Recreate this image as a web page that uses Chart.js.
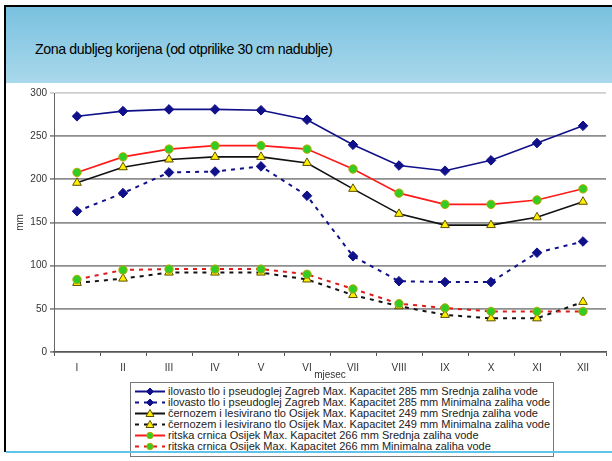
<!DOCTYPE html>
<html>
<head>
<meta charset="utf-8">
<script src="https://cdn.jsdelivr.net/npm/chart.js@4/dist/chart.umd.min.js"></script>
<style>
  html,body{margin:0;padding:0;background:#fff;}
  body{width:612px;height:461px;position:relative;overflow:hidden;font-family:"Liberation Sans",Arial,sans-serif;}
  #frameL{position:absolute;left:4px;top:5px;width:2px;height:447px;background:#000;}
  #frameT{position:absolute;left:4px;top:5px;width:608px;height:2px;background:#000;}
  #header{position:absolute;left:6px;top:7px;width:606px;height:76px;background:linear-gradient(#79c1df,#a9d8eb);}
  #title{position:absolute;left:29px;top:34px;font-size:14.2px;letter-spacing:-0.4px;color:#000;white-space:nowrap;}
  #wrap{position:absolute;left:0;top:84px;width:612px;height:300px;}
  #legend{position:absolute;left:130px;top:382px;width:424px;height:75px;border:1px solid #777;background:#fff;box-sizing:border-box;padding-top:3px;overflow:hidden;}
  .row{height:11px;line-height:11px;font-size:11px;color:#222;white-space:nowrap;display:flex;align-items:center;}
  .row svg{flex:none;margin-left:3px;margin-right:2px;}
  #bottomLine{position:absolute;left:6px;top:451px;width:606px;height:2px;background:#5fc3ea;}
</style>
</head>
<body>
<div id="frameL"></div>
<div id="frameT"></div>
<div id="header"><div id="title">Zona dubljeg korijena (od otprilike 30 cm nadublje)</div></div>
<div id="wrap"><canvas id="c" width="612" height="300"></canvas></div>
<div id="legend"></div>
<div id="bottomLine"></div>
<script>
const months = ['I','II','III','IV','V','VI','VII','VIII','IX','X','XI','XII'];
const yTicks = [0,50,100,150,200,250,300];
const xTitle = 'mjesec';
const yTitle = 'mm';

const zagrebSrednja = [273,279,281,281,280,269,240,216,210,222,242,262];
const zagrebMin     = [163,184,208,209,215,181,111,82,81,81,115,128];
const cernozemSrednja = [196,214,223,226,226,219,189,160,147,147,156,174];
const cernozemMin     = [80,85,92,92,92,84,66,53,43,39,39,58];
const ritskaSrednja = [208,226,235,239,239,235,212,184,171,171,176,189];
const ritskaMin     = [84,95,96,96,96,90,73,56,51,47,47,47];

const seriesNames = [
  'ilovasto tlo i pseudoglej Zagreb Max. Kapacitet 285 mm Srednja zaliha vode',
  'ilovasto tlo i pseudoglej Zagreb Max. Kapacitet 285 mm Minimalna zaliha vode',
  'černozem i lesivirano tlo Osijek Max. Kapacitet 249 mm Srednja zaliha vode',
  'černozem i lesivirano tlo Osijek Max. Kapacitet 249 mm Minimalna zaliha vode',
  'ritska crnica Osijek Max. Kapacitet 266 mm Srednja zaliha vode',
  'ritska crnica Osijek Max. Kapacitet 266 mm Minimalna zaliha vode'
];
const seriesData = [zagrebSrednja, zagrebMin, cernozemSrednja, cernozemMin, ritskaSrednja, ritskaMin];

const styles = [
  {line:'#10108a', dash:[], style:'rectRot', r:4.8, fill:'#10108a', border:'#10108a'},
  {line:'#10108a', dash:[4,5], style:'rectRot', r:4.8, fill:'#10108a', border:'#10108a'},
  {line:'#111111', dash:[], style:'triangle', r:5, fill:'#ffee00', border:'#5a5000'},
  {line:'#111111', dash:[4,5], style:'triangle', r:5, fill:'#ffee00', border:'#5a5000'},
  {line:'#ff1a1a', dash:[], style:'circle', r:4.2, fill:'#33cc22', border:'#b8a800'},
  {line:'#e01a1a', dash:[4,5], style:'circle', r:4.2, fill:'#33cc22', border:'#b8a800'}
];

const datasets = seriesData.map((d,i)=>({
  label: seriesNames[i],
  data: d,
  borderColor: styles[i].line,
  borderWidth: styles[i].dash.length ? 2 : 1.6,
  borderDash: styles[i].dash,
  pointStyle: styles[i].style,
  pointRadius: styles[i].r,
  pointBackgroundColor: styles[i].fill,
  pointBorderColor: styles[i].border,
  pointBorderWidth: 1,
  tension: 0,
  fill: false,
  order: 5 - i
}));

const xTitlePlugin = {
  id:'xTitlePlugin',
  afterDraw(chart){
    const xs = chart.scales.x;
    const ctx = chart.ctx;
    const x = (xs.getPixelForValue(5) + xs.getPixelForValue(6)) / 2;
    const y = xs.top + 23;
    ctx.save();
    ctx.font = '10px "Liberation Sans", Arial, sans-serif';
    ctx.fillStyle = '#333';
    ctx.textAlign = 'center';
    ctx.textBaseline = 'middle';
    ctx.fillText(xTitle, x, y);
    ctx.restore();
  }
};

const chart = new Chart(document.getElementById('c'), {
  type:'line',
  data:{labels:months, datasets},
  options:{
    responsive:false,
    animation:false,
    layout:{padding:{left:10, top:6, right:0, bottom:0}},
    plugins:{legend:{display:false}, tooltip:{enabled:false}},
    scales:{
      x:{
        offset:true,
        grid:{offset:true, drawOnChartArea:false, tickLength:4, color:'#555', lineWidth:1},
        border:{color:'#555', width:1.5},
        ticks:{font:{size:10, family:'"Liberation Sans", Arial, sans-serif'}, color:'#333', padding:6, maxRotation:0, autoSkip:false},
        afterFit(s){ s.height = 32; }
      },
      y:{
        min:0, max:300,
        afterBuildTicks(s){ s.ticks = yTicks.map(v=>({value:v})); },
        grid:{
          color:(c)=> c.tick && c.tick.value===300 ? '#cfcfcf' : '#8e8e8e',
          lineWidth:1.8, tickLength:4, drawTicks:true
        },
        border:{color:'#666', width:1},
        ticks:{font:{size:10, family:'"Liberation Sans", Arial, sans-serif'}, color:'#333', padding:3},
        title:{display:true, text:yTitle, font:{size:10, family:'"Liberation Sans", Arial, sans-serif'}, color:'#333', padding:{top:4,bottom:2}},
        afterFit(s){ s.width = 44; }
      }
    }
  },
  plugins:[xTitlePlugin]
});

// HTML legend built from dataset styles
const leg = document.getElementById('legend');
chart.data.datasets.forEach((ds)=>{
  const row = document.createElement('div');
  row.className='row';
  const dash = ds.borderDash.length ? 'stroke-dasharray="4,5"' : '';
  let marker='';
  const cx=16, cy=5.5;
  if(ds.pointStyle==='rectRot'){
    marker=`<polygon points="${cx},${cy-3.5} ${cx+3.5},${cy} ${cx},${cy+3.5} ${cx-3.5},${cy}" fill="${ds.pointBackgroundColor}" stroke="${ds.pointBorderColor}" stroke-width="1"/>`;
  } else if(ds.pointStyle==='triangle'){
    marker=`<polygon points="${cx},${cy-4} ${cx+4},${cy+3} ${cx-4},${cy+3}" fill="${ds.pointBackgroundColor}" stroke="${ds.pointBorderColor}" stroke-width="1"/>`;
  } else {
    marker=`<circle cx="${cx}" cy="${cy}" r="3.2" fill="${ds.pointBackgroundColor}" stroke="${ds.pointBorderColor}" stroke-width="1"/>`;
  }
  row.innerHTML = `<svg width="32" height="11"><line x1="1" y1="${cy}" x2="31" y2="${cy}" stroke="${ds.borderColor}" stroke-width="2" ${dash}/>${marker}</svg><span>${ds.label}</span>`;
  leg.appendChild(row);
});
</script>
</body>
</html>
